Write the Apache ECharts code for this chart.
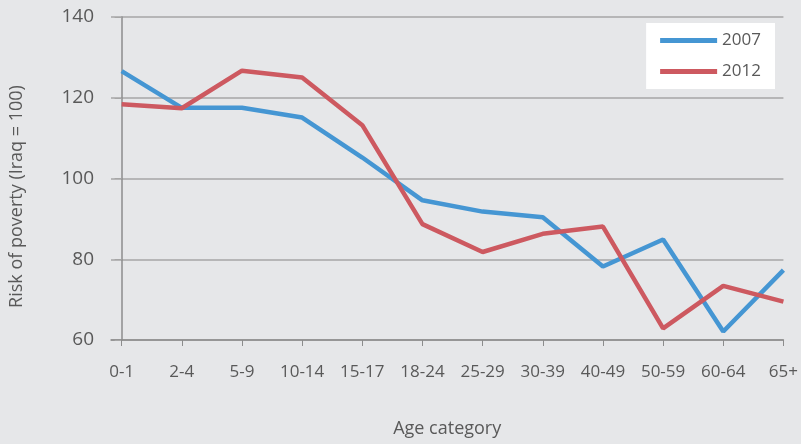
<!DOCTYPE html>
<html>
<head>
<meta charset="utf-8">
<script src="https://cdn.jsdelivr.net/npm/echarts@6/dist/echarts.min.js"></script>
<style>
  html, body { margin: 0; padding: 0; background: #e6e7e9; }
  #chart { width: 801px; height: 444px; }
</style>
</head>
<body>
<div id="chart"></div>
<script>
var categories = ['0-1', '2-4', '5-9', '10-14', '15-17', '18-24', '25-29', '30-39', '40-49', '50-59', '60-64', '65+'];
var values2007 = [126.6, 117.5, 117.5, 115.1, 105.2, 94.6, 91.8, 90.4, 78.2, 84.9, 62.1, 77.3];
var values2012 = [118.4, 117.4, 126.7, 125.0, 113.2, 88.7, 81.8, 86.3, 88.1, 62.9, 73.4, 69.5];
var yTicks = [60, 80, 100, 120, 140];

var dom = document.getElementById('chart');
var myChart = echarts.init(dom);

var textColor = '#595959';
var idx = categories.map(function (c, i) { return i; });

function pairs(vals) {
    return vals.map(function (v, i) { return [i, v]; });
}

var option = {
    backgroundColor: '#e6e7e9',
    textStyle: { fontFamily: 'Open Sans' },
    grid: { left: 111, right: 13, top: 17, bottom: 104 },
    legend: {
        orient: 'vertical',
        right: 26,
        top: 23,
        width: 127,
        backgroundColor: '#ffffff',
        padding: [9, 14, 9, 14],
        itemGap: 14,
        itemWidth: 57,
        itemHeight: 5,
        icon: 'rect',
        textStyle: { color: textColor, fontSize: 17, fontFamily: 'Open Sans' },
        data: ['2007', '2012']
    },
    xAxis: {
        type: 'value',
        min: -0.177,
        max: 11,
        name: 'Age category',
        nameLocation: 'middle',
        nameGap: 80,
        nameTextStyle: { color: textColor, fontSize: 18 },
        splitLine: { show: false },
        axisLine: { lineStyle: { color: '#8c8c8c', width: 1.5 } },
        axisTick: { show: true, length: 6, customValues: idx, lineStyle: { color: '#8c8c8c' } },
        axisLabel: {
            customValues: idx,
            color: textColor,
            fontSize: 17,
            margin: 24,
            formatter: function (v) { return categories[Math.round(v)]; }
        }
    },
    yAxis: {
        type: 'value',
        min: 60,
        max: 140,
        interval: 20,
        name: 'Risk of poverty (Iraq = 100)',
        nameLocation: 'middle',
        nameGap: 85,
        nameTextStyle: { color: textColor, fontSize: 18, padding: [0, 36, 0, 0] },
        axisLine: { show: true, lineStyle: { color: '#8c8c8c', width: 1.5 } },
        axisTick: { show: true, length: 7, lineStyle: { color: '#a6a6a6' } },
        splitLine: { lineStyle: { color: '#a6a6a6', width: 1.5 } },
        axisLabel: { color: textColor, fontSize: 19, margin: 17 }
    },
    series: [{
        name: '2007',
        type: 'line',
        data: pairs(values2007),
        symbol: 'none',
        color: '#4596d3',
        lineStyle: { width: 4.5, color: '#4596d3' }
    }, {
        name: '2012',
        type: 'line',
        data: pairs(values2012),
        symbol: 'none',
        color: '#cd5960',
        lineStyle: { width: 4.5, color: '#cd5960' }
    }]
};

if (option && typeof option === 'object') {
    myChart.setOption(option);
}
</script>
</body>
</html>
